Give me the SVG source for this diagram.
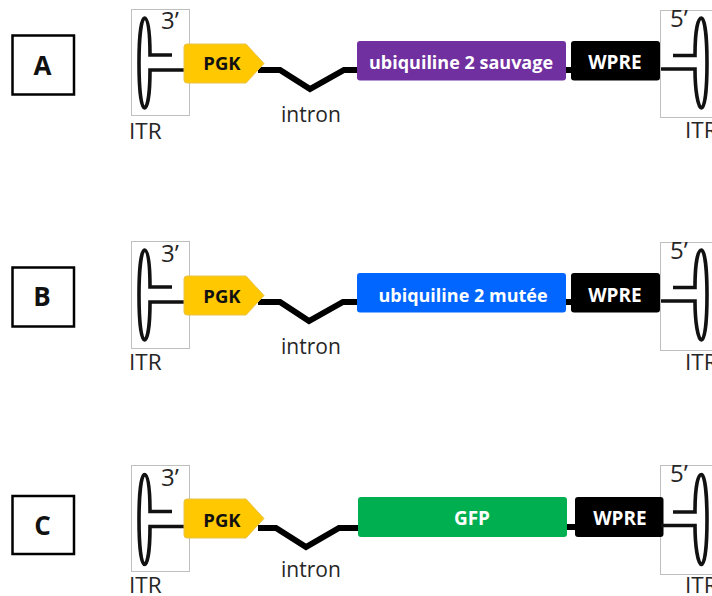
<svg xmlns="http://www.w3.org/2000/svg" width="712" height="596" viewBox="0 0 712 596">
<style>
text{font-family:"Open Sans","Noto Sans","Liberation Sans",sans-serif}
.lab{fill:none;stroke:#000;stroke-width:2.5}
.labt{font-size:26px;font-weight:700;fill:#111;text-anchor:middle}
.itrbox{fill:#fff;stroke:#bfbfbf;stroke-width:1}
.arm{fill:none;stroke:#111;stroke-width:3.600}
.t{font-size:21px;fill:#262626}
.i{font-size:22.500px;fill:#262626}
.e{font-size:24px;fill:#262626}
.pgk{fill:#ffc800;stroke:#e8c24a;stroke-width:1}
.b{font-size:18px;font-weight:700;text-anchor:middle;fill:#fff}
.w{font-size:19px;font-weight:700;text-anchor:middle;fill:#fff}
.pt{font-size:18.500px;font-weight:700;text-anchor:middle;fill:#111}
.wire{fill:none;stroke:#000;stroke-width:6;stroke-linejoin:miter}
</style>
<defs>
<path id="hp3" class="arm" d="M172 55H150C150 30 148 18 144.500 18C141 18 139 40 139 63C139 88 141 108 144.500 108C148 108 150 90 150 70H185"/>
<path id="hp5" class="arm" d="M673 55.500H695C695 30 698 18 701.500 18C705 18 707 40 707 63C707 88 705 108 701.500 108C698 108 695 90 695 69H661"/>
</defs>
<g id="itr-boxes">
<rect class="itrbox" x="131.500" y="9.500" width="58" height="106"/>
<rect class="itrbox" x="660.500" y="10.500" width="60" height="107"/>
<rect class="itrbox" x="131.500" y="241.500" width="58" height="107"/>
<rect class="itrbox" x="660.500" y="242.500" width="60" height="108"/>
<rect class="itrbox" x="131.500" y="465.500" width="58" height="106"/>
<rect class="itrbox" x="660.500" y="465.500" width="60" height="109"/>
</g>
<g id="connectors">
<path class="wire" d="M258 70H280L310 89L344 70H360"/>
<path class="wire" d="M258 302H280L309 321L343 302H360"/>
<path class="wire" d="M258 528H276L306 547L339 528H360"/>
<path class="wire" d="M564 70H573"/>
<path class="wire" d="M564 302H573"/>
<path class="wire" d="M565 527H577"/>
</g>
<g id="label-A"><rect class="lab" x="12.500" y="35.500" width="61.500" height="59"/><text class="labt" x="42.500" y="75">A</text></g>
<g id="label-B"><rect class="lab" x="12.500" y="267.500" width="61.500" height="59"/><text class="labt" x="42" y="306">B</text></g>
<g id="label-C"><rect class="lab" x="12.500" y="496" width="61.500" height="58"/><text class="labt" x="42.500" y="535">C</text></g>

<g id="itr-3-A"><use href="#hp3"/><text class="e" x="161" y="29">3’</text><text class="i" x="129" y="139">ITR</text></g>
<g id="itr-3-B"><use href="#hp3" transform="translate(0 232)"/><text class="e" x="161" y="262">3’</text><text class="i" x="129" y="370">ITR</text></g>
<g id="itr-3-C"><use href="#hp3" transform="translate(0 456.500)"/><text class="e" x="161" y="486">3’</text><text class="i" x="129" y="593">ITR</text></g>

<g id="pgk-A"><path class="pgk" d="M187 44H246L264 63.500L246 83H187Q184 83 184 80V47Q184 44 187 44Z"/><text class="pt" x="222" y="70">PGK</text></g>
<g id="pgk-B"><path class="pgk" d="M187 276H246L264 295.500L246 315H187Q184 315 184 312V279Q184 276 187 276Z"/><text class="pt" x="222" y="303">PGK</text></g>
<g id="pgk-C"><path class="pgk" d="M187 499H246L264 518.500L246 538H187Q184 538 184 535V502Q184 499 187 499Z"/><text class="pt" x="222" y="527">PGK</text></g>

<g id="intron-A"><text class="t" x="281" y="122">intron</text></g>
<g id="intron-B"><text class="t" x="281" y="354">intron</text></g>
<g id="intron-C"><text class="t" x="281" y="577">intron</text></g>

<g id="gene-A"><rect x="357" y="41" width="209" height="39.500" rx="3" fill="#7030a0"/><text class="b" x="461" y="69">ubiquiline 2 sauvage</text></g>
<g id="gene-B"><rect x="357" y="273" width="209" height="39.500" rx="3" fill="#0066ff"/><text class="b" x="463" y="302">ubiquiline 2 mutée</text></g>
<g id="gene-C"><rect x="358" y="497" width="209" height="40" rx="3" fill="#00b050"/><text class="w" x="472" y="525">GFP</text></g>

<g id="wpre-A"><rect x="571" y="41" width="89" height="39.500" rx="3" fill="#000"/><text class="w" x="615" y="69">WPRE</text></g>
<g id="wpre-B"><rect x="571" y="273" width="89" height="39.500" rx="3" fill="#000"/><text class="w" x="615" y="302">WPRE</text></g>
<g id="wpre-C"><rect x="575" y="497" width="88.500" height="40" rx="3" fill="#000"/><text class="w" x="620" y="525">WPRE</text></g>

<g id="itr-5-A"><use href="#hp5"/><text class="e" x="670" y="27">5’</text><text class="i" x="685" y="138">ITR</text></g>
<g id="itr-5-B"><use href="#hp5" transform="translate(0 232)"/><text class="e" x="670" y="259">5’</text><text class="i" x="685" y="370">ITR</text></g>
<g id="itr-5-C"><use href="#hp5" transform="translate(0 456.500)"/><text class="e" x="670" y="482">5’</text><text class="i" x="685" y="593">ITR</text></g>
</svg>
